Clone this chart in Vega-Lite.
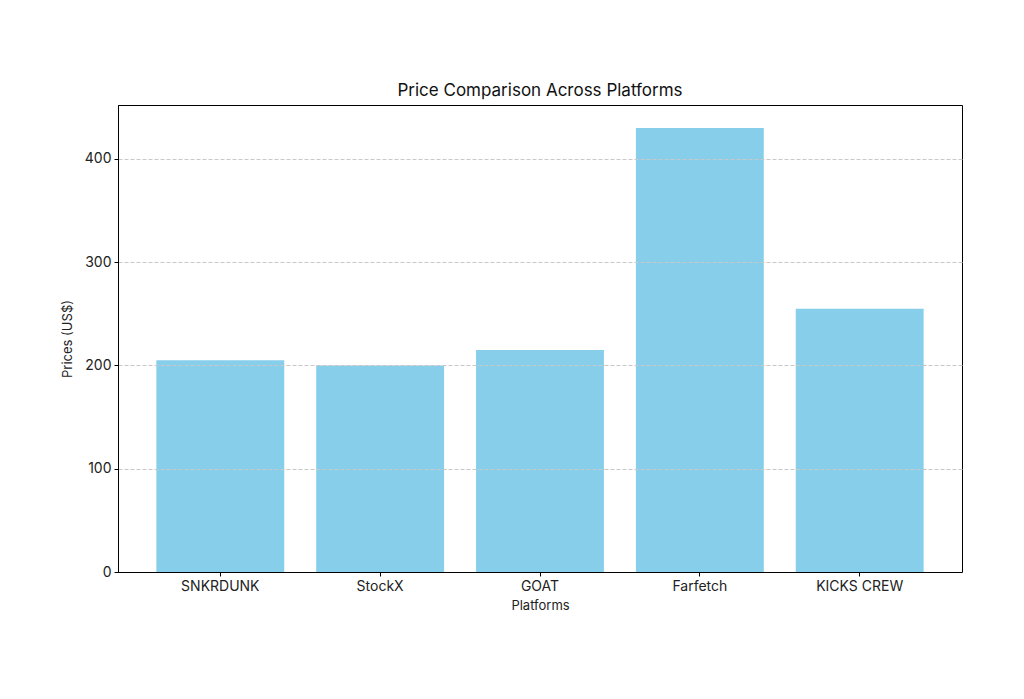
{
  "$schema": "https://vega.github.io/schema/vega-lite/v6.json",
  "autosize": "none",
  "width": 844,
  "height": 467,
  "padding": {"left": 118, "top": 105, "right": 62, "bottom": 127},
  "background": "white",
  "config": {
    "font": "Inter",
    "view": {"stroke": "black", "strokeWidth": 1},
    "axis": {"labelFont": "Inter", "titleFont": "Inter", "labelColor": "#222", "titleColor": "#222", "titleFontWeight": "normal", "domainColor": "black", "tickColor": "black", "tickSize": 4}
  },
  "title": {"text": "Price Comparison Across Platforms", "fontSize": 17, "fontWeight": "normal", "color": "#111", "offset": 5, "font": "Inter"},
  "data": {
    "values": [
      {"platform": "SNKRDUNK", "price": 205},
      {"platform": "StockX", "price": 200},
      {"platform": "GOAT", "price": 215},
      {"platform": "Farfetch", "price": 430},
      {"platform": "KICKS CREW", "price": 255}
    ]
  },
  "mark": {"type": "bar", "color": "#87CEEB"},
  "encoding": {
    "x": {
      "field": "platform", "type": "nominal", "sort": null, "title": "Platforms",
      "scale": {"paddingInner": 0.2, "paddingOuter": 0.24},
      "axis": {"labelAngle": 0, "labelFontSize": 14, "titleFontSize": 13, "labelPadding": 3, "titlePadding": 6, "grid": false, "zindex": 2}
    },
    "y": {
      "field": "price", "type": "quantitative", "title": "Prices (US$)",
      "scale": {"domain": [0, 452.3], "nice": false},
      "axis": {"values": [0, 100, 200, 300, 400], "labelFontSize": 14, "titleFontSize": 13, "labelPadding": 3, "titlePadding": 10, "grid": true, "gridColor": "#c8c8c8", "gridDash": [4, 2], "zindex": 1}
    }
  }
}
